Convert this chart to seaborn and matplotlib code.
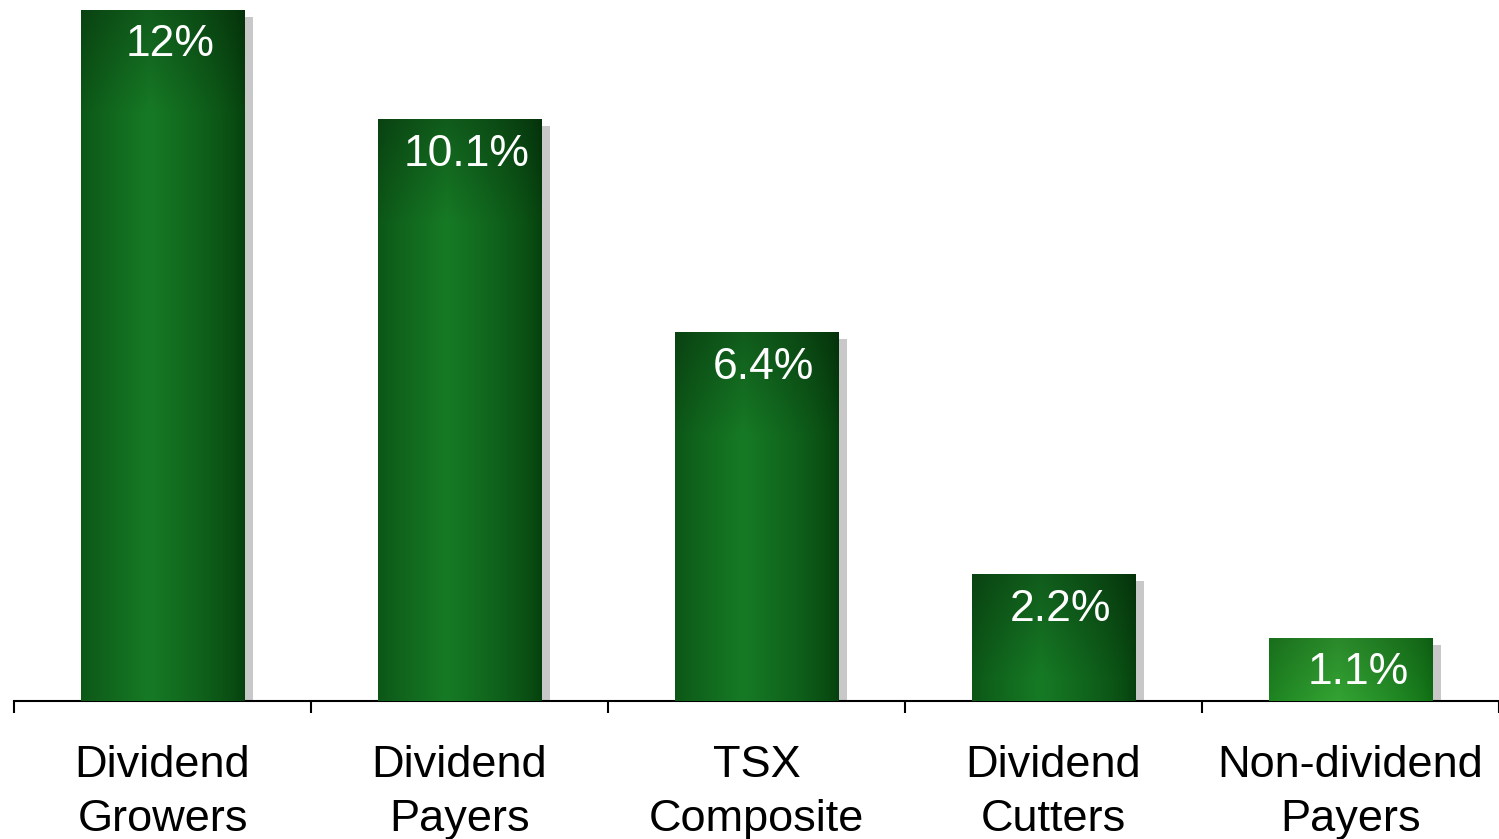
import numpy as np
import pandas as pd
import matplotlib
matplotlib.use("Agg")
import matplotlib.pyplot as plt
import seaborn as sns
from matplotlib.colors import to_rgb

# Average annual returns by dividend policy
categories = ["Dividend\nGrowers", "Dividend\nPayers", "TSX\nComposite",
              "Dividend\nCutters", "Non-dividend\nPayers"]
returns = [12.0, 10.1, 6.4, 2.2, 1.1]
value_labels = ["12%", "10.1%", "6.4%", "2.2%", "1.1%"]

sns.set_theme(style="white")
plt.rcParams["font.family"] = ["Liberation Sans", "DejaVu Sans"]

W, H = 1499, 839
fig = plt.figure(figsize=(W / 100, H / 100), dpi=100)
ax = fig.add_axes([14 / W, 138 / H, 1 - 14 / W, 701 / H])
df = pd.DataFrame({"category": categories, "ret": returns})

bar_width = 0.55

# soft grey drop shadow behind each bar
sns.barplot(data=df, x="category", y="ret", color="#c8c8c8", width=bar_width,
            saturation=1, errorbar=None, ax=ax)
shadows = list(ax.patches)
for p in shadows:
    p.set_x(p.get_x() + 0.03)
    p.set_height(p.get_height() - 0.12)
    p.set_zorder(1)
    p.set_linewidth(0)

# main bars
sns.barplot(data=df, x="category", y="ret", color="#136b1f", width=bar_width,
            saturation=1, errorbar=None, ax=ax)
bars = ax.patches[len(shadows):]

# cylinder-like green gradient fill, clipped to each bar
dark_edge = np.array(to_rgb("#063f0d"))
dark_mid = np.array(to_rgb("#167a25"))
light_edge = np.array(to_rgb("#107816"))
light_mid = np.array(to_rgb("#38b438"))
for i, p in enumerate(bars):
    p.set_zorder(2)
    p.set_linewidth(0)
    x0, w, h = p.get_x(), p.get_width(), p.get_height()
    u = np.linspace(0, 1, 240)
    prof = np.clip(1 - np.abs(u - 0.42) / 0.58, 0, 1) ** 0.7
    edge, mid = (light_edge, light_mid) if i == len(bars) - 1 else (dark_edge, dark_mid)
    row = edge[None, :] + (mid - edge)[None, :] * prof[:, None]
    depth = np.linspace(0, h, 240)
    shade = 0.76 + 0.24 * np.clip(depth / 1.8, 0, 1)
    img = np.clip(shade[:, None, None] * row[None, :, :], 0, 1)
    im = ax.imshow(img, extent=(x0, x0 + w, 0, h), origin="upper",
                   aspect="auto", zorder=3, interpolation="bilinear")
    im.set_clip_path(p)

# value labels inside the bars
for i, (v, lbl) in enumerate(zip(returns, value_labels)):
    ax.annotate(lbl, (i + 0.025, v), xytext=(0, -35), textcoords="offset pixels",
                ha="center", va="center", color="white", fontsize=32, zorder=5)

ax.set_xlim(-0.5, 4.5)
ax.set_ylim(0, 12.17)
ax.set_xlabel("")
ax.set_ylabel("")
ax.set_yticks([])
ax.set_xticks(range(len(categories)))
ax.set_xticklabels(categories, fontsize=32.5, color="black", linespacing=1.38)
for t in ax.get_xticklabels():
    t.set_x(t.get_position()[0])
ax.set_xticks(np.arange(-0.5, len(categories)), minor=True)
ax.tick_params(axis="x", which="major", length=0, pad=32)
ax.tick_params(axis="x", which="minor", bottom=True, direction="out",
               length=8.5, width=1.5, color="black")
for s in ["left", "top", "right"]:
    ax.spines[s].set_visible(False)
ax.spines["bottom"].set_color("black")
ax.spines["bottom"].set_linewidth(1.5)
ax.set_facecolor("white")
fig.patch.set_facecolor("white")

fig.savefig("out.png", dpi=100)
